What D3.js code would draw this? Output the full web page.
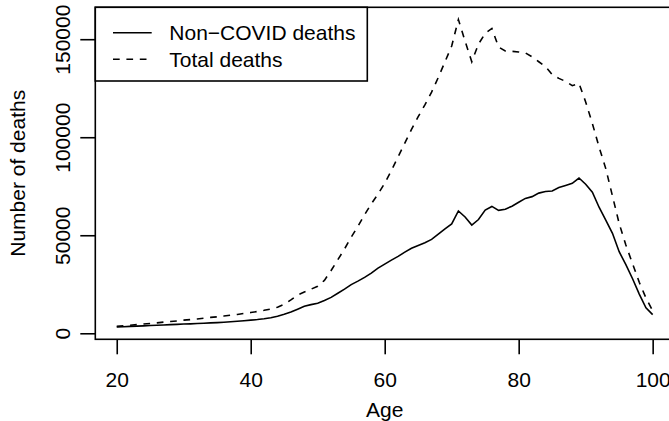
<!DOCTYPE html>
<html><head><meta charset="utf-8">
<script src="https://cdn.jsdelivr.net/npm/d3@7"></script>
<style>
body{margin:0;background:#fff}
svg{display:block}
text{font-family:"Liberation Sans",Arial,Helvetica,sans-serif;fill:#000}
</style>
</head><body><svg id="c" width="669" height="421"></svg>
<script>
const ages = [20,21,22,23,24,25,26,27,28,29,30,31,32,33,34,35,36,37,38,39,40,41,42,43,44,45,46,47,48,49,50,51,52,53,54,55,56,57,58,59,60,61,62,63,64,65,66,67,68,69,70,71,72,73,74,75,76,77,78,79,80,81,82,83,84,85,86,87,88,89,90,91,92,93,94,95,96,97,98,99,100];
const nonCovid = [3200,3350,3500,3650,3800,3950,4100,4250,4400,4550,4700,4800,4950,5100,5300,5450,5650,5850,6100,6400,6700,7000,7400,7900,8700,9700,10800,12300,13800,14600,15300,16700,18300,20400,22500,24800,26600,28500,30700,33200,35300,37300,39200,41400,43400,44800,46200,47900,50600,53300,55800,62400,59300,55200,58000,62800,64700,62700,63300,64800,66800,68800,69700,71500,72300,72600,74300,75400,76500,79200,76000,72000,64300,57700,51000,41600,35000,27800,20000,13000,9500];
const total = [3500,3800,4100,4400,4700,5000,5300,5700,6000,6300,6700,7000,7300,7700,8100,8400,8800,9200,9600,10100,10600,11100,11700,12400,13300,14800,17000,19500,21000,22500,24000,27000,32000,37500,43000,49000,54500,60500,66000,71000,76500,83000,90000,97000,104000,110500,116500,123000,130500,138500,146500,160000,149000,138500,147500,153000,155500,146000,144000,143800,143500,143000,141000,138500,136000,132000,130000,128500,126300,127500,118000,107000,95000,84000,70000,56000,45000,35500,26000,18000,11500];
const xTicks = [20,40,60,80,100];
const yTicks = [0,50000,100000,150000];
const seriesNames = ["Non\u2212COVID deaths","Total deaths"];
const xLabel = "Age", yLabel = "Number of deaths";

const svg = d3.select("#c");
svg.append("rect").attr("width",669).attr("height",421).attr("fill","#fff");
const L = 95.3, R = 674.1, T = 7.3, B = 339.3;
const FS = 21, LW = 1.6;

function pad(ext){const r = ext[1]-ext[0]; return [ext[0]-0.04*r, ext[1]+0.04*r];}
const x = d3.scaleLinear().domain(pad(d3.extent(ages))).range([L,R]);
const y = d3.scaleLinear().domain(pad(d3.extent(nonCovid.concat(total)))).range([B,T]);

// axes
const xa = svg.append("g").attr("transform",`translate(0,${B})`)
  .call(d3.axisBottom(x).tickValues(xTicks).tickSize(15).tickSizeOuter(0).tickFormat(d3.format("d")));
xa.select(".domain").remove();
xa.selectAll("line").attr("stroke","#000").attr("stroke-width",LW);
xa.selectAll("text").attr("y",47.5).attr("dy",null).attr("font-size",FS).attr("font-family",null);

const ya = svg.append("g").attr("transform",`translate(${L},0)`)
  .call(d3.axisLeft(y).tickValues(yTicks).tickSize(15).tickSizeOuter(0).tickFormat(d3.format("d")));
ya.select(".domain").remove();
ya.selectAll("line").attr("stroke","#000").attr("stroke-width",LW);
ya.selectAll("text").attr("x",null).attr("dy",null).attr("font-size",FS).attr("font-family",null)
  .attr("text-anchor","middle").attr("transform","translate(-25.7,0) rotate(-90)");

// box
svg.append("rect").attr("x",L).attr("y",T).attr("width",R-L).attr("height",B-T)
  .attr("fill","none").attr("stroke","#000").attr("stroke-width",LW);

// lines
const line = arr => d3.line().x((d,i)=>x(ages[i])).y(d=>y(d))(arr);
svg.append("path").attr("d",line(nonCovid)).attr("fill","none").attr("stroke","#000").attr("stroke-width",LW);
svg.append("path").attr("d",line(total)).attr("fill","none").attr("stroke","#000").attr("stroke-width",LW).attr("stroke-dasharray","6.7,6.7");

// labels
svg.append("text").attr("x",x(60)).attr("y",417).attr("text-anchor","middle").attr("font-size",FS).text(xLabel);
svg.append("text").attr("transform",`translate(25,${(T+B)/2}) rotate(-90)`).attr("text-anchor","middle").attr("font-size",FS).text(yLabel);

// legend
const lg = svg.append("g");
lg.append("rect").attr("x",L).attr("y",T).attr("width",367.3-L).attr("height",81-T)
  .attr("fill","#fff").attr("stroke","#000").attr("stroke-width",LW);
const ly = [32.7,59.3];
seriesNames.forEach((n,i)=>{
  lg.append("line").attr("x1",113).attr("x2",151.7).attr("y1",ly[i]).attr("y2",ly[i])
    .attr("stroke","#000").attr("stroke-width",LW).attr("stroke-dasharray", i===1?"6.7,6.7":null);
  lg.append("text").attr("x",169.3).attr("y",ly[i]).attr("dy","0.35em").attr("font-size",FS).text(n);
});
</script></body></html>
